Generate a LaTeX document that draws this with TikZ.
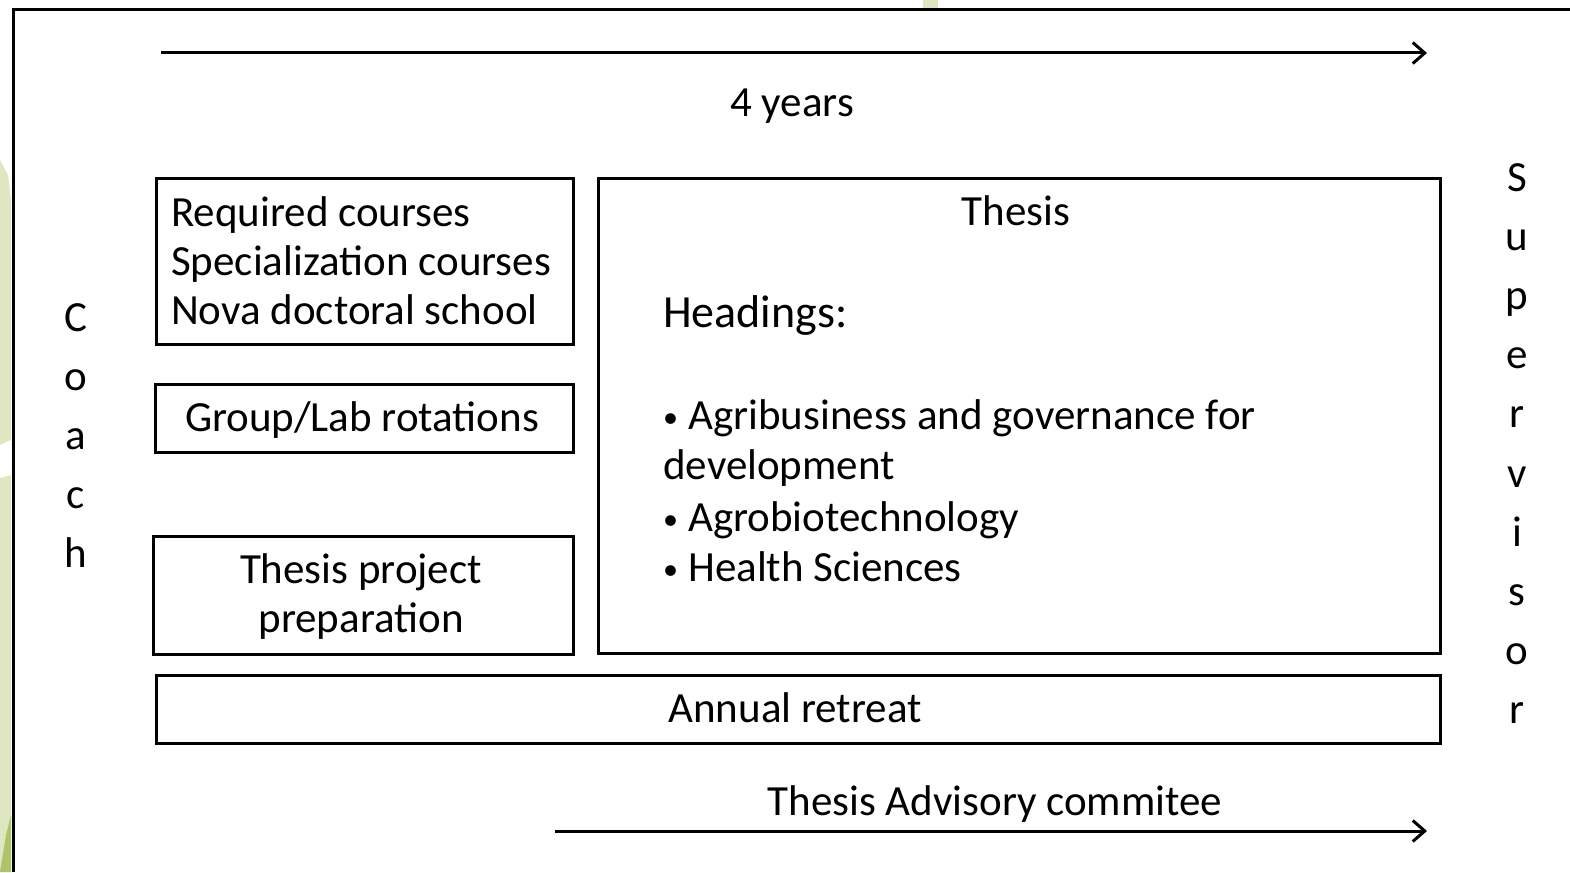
\documentclass[tikz,border=0pt]{standalone}
\usepackage{fontspec}
\setmainfont{Carlito}
\usetikzlibrary{arrows.meta}
\definecolor{paleGreen}{HTML}{DFE6C2}
\definecolor{deepGreen}{HTML}{AFC46A}
\newcommand{\smallbullet}{\makebox[25pt][l]{\raisebox{2pt}{\scalebox{0.7}{•}}}}
\begin{document}
\begin{tikzpicture}[x=1pt,y=-1pt,
  box/.style={draw, line width=2.8pt, inner sep=0pt, anchor=north west},
  txt/.style={inner sep=0pt, font=\fontsize{43}{50}\selectfont},
  arr/.style={line width=3pt, -{Straight Barb[length=12pt,width=21pt]}}]
\useasboundingbox (0,0) rectangle (1570,872);
% background slide remnants
\fill[paleGreen] (0,160) -- (8,175) -- (11,200) -- (11,872) -- (0,872) -- cycle;
\fill[white] (0,445) -- (11,440) -- (11,475) -- (0,478) -- cycle;
\fill[deepGreen] (0,872) -- (6,835) -- (11,815) -- (11,872) -- cycle;
\fill[paleGreen] (923,0) rectangle (938,9);
% frame
\draw[line width=3pt] (13,872) -- (13,10) -- (1570,10);
% top arrow
\coordinate (ta0) at (161,53);
\coordinate (ta1) at (1427,53);
\draw[arr] (ta0) -- (ta1);
\node[txt, anchor=base] (years) at (792,117) {4 years};
% boxes
\node[box, minimum width=417pt, minimum height=166pt] (req) at (155,177) {};
\node[box, minimum width=418pt, minimum height=68pt] (lab) at (154,383) {};
\node[box, minimum width=420pt, minimum height=118pt] (prep) at (152,535) {};
\node[box, minimum width=842pt, minimum height=475pt] (thesis) at (597,177) {};
\node[box, minimum width=1284pt, minimum height=68pt] (retreat) at (155,674) {};
% box texts
\node[txt, anchor=base west] (req1) at (171,226) {Required courses};
\node[txt, anchor=base west] (req2) at (171,275) {Specialization courses};
\node[txt, anchor=base west] (req3) at (171,324) {Nova doctoral school};
\node[txt, anchor=base] (labt) at (362,431) {Group/Lab rotations};
\node[txt, anchor=base] (prep1) at (361,583) {Thesis project};
\node[txt, anchor=base] (prep2) at (361,632) {preparation};
\node[txt, anchor=base] (thesist) at (1016,225) {Thesis};
\node[inner sep=0pt, font=\fontsize{46}{54}\selectfont, anchor=base west] (head) at (663,327) {Headings:};
\node[txt, anchor=base west] (b1) at (663,429) {\smallbullet Agribusiness and governance for};
\node[txt, anchor=base west] (b1b) at (663,479) {development};
\node[txt, anchor=base west] (b2) at (663,531) {\smallbullet Agrobiotechnology};
\node[txt, anchor=base west] (b3) at (663,581) {\smallbullet Health Sciences};
\node[txt, anchor=base] (retreatt) at (795,722) {Annual retreat};
% bottom
\node[txt, anchor=base] (tac) at (995,815) {Thesis Advisory commitee};
\coordinate (ba0) at (555,831);
\coordinate (ba1) at (1427,831);
\draw[arr] (ba0) -- (ba1);
% vertical labels
\foreach \l [count=\i] in {C,o,a,c,h}
  \node[txt, anchor=base] (coach\i) at (76,{331+59*(\i-1)}) {\l};
\foreach \l [count=\i] in {S,u,p,e,r,v,i,s,o,r}
  \node[txt, anchor=base] (sup\i) at (1517,{191+59.2*(\i-1)}) {\l};
\end{tikzpicture}
\end{document}
